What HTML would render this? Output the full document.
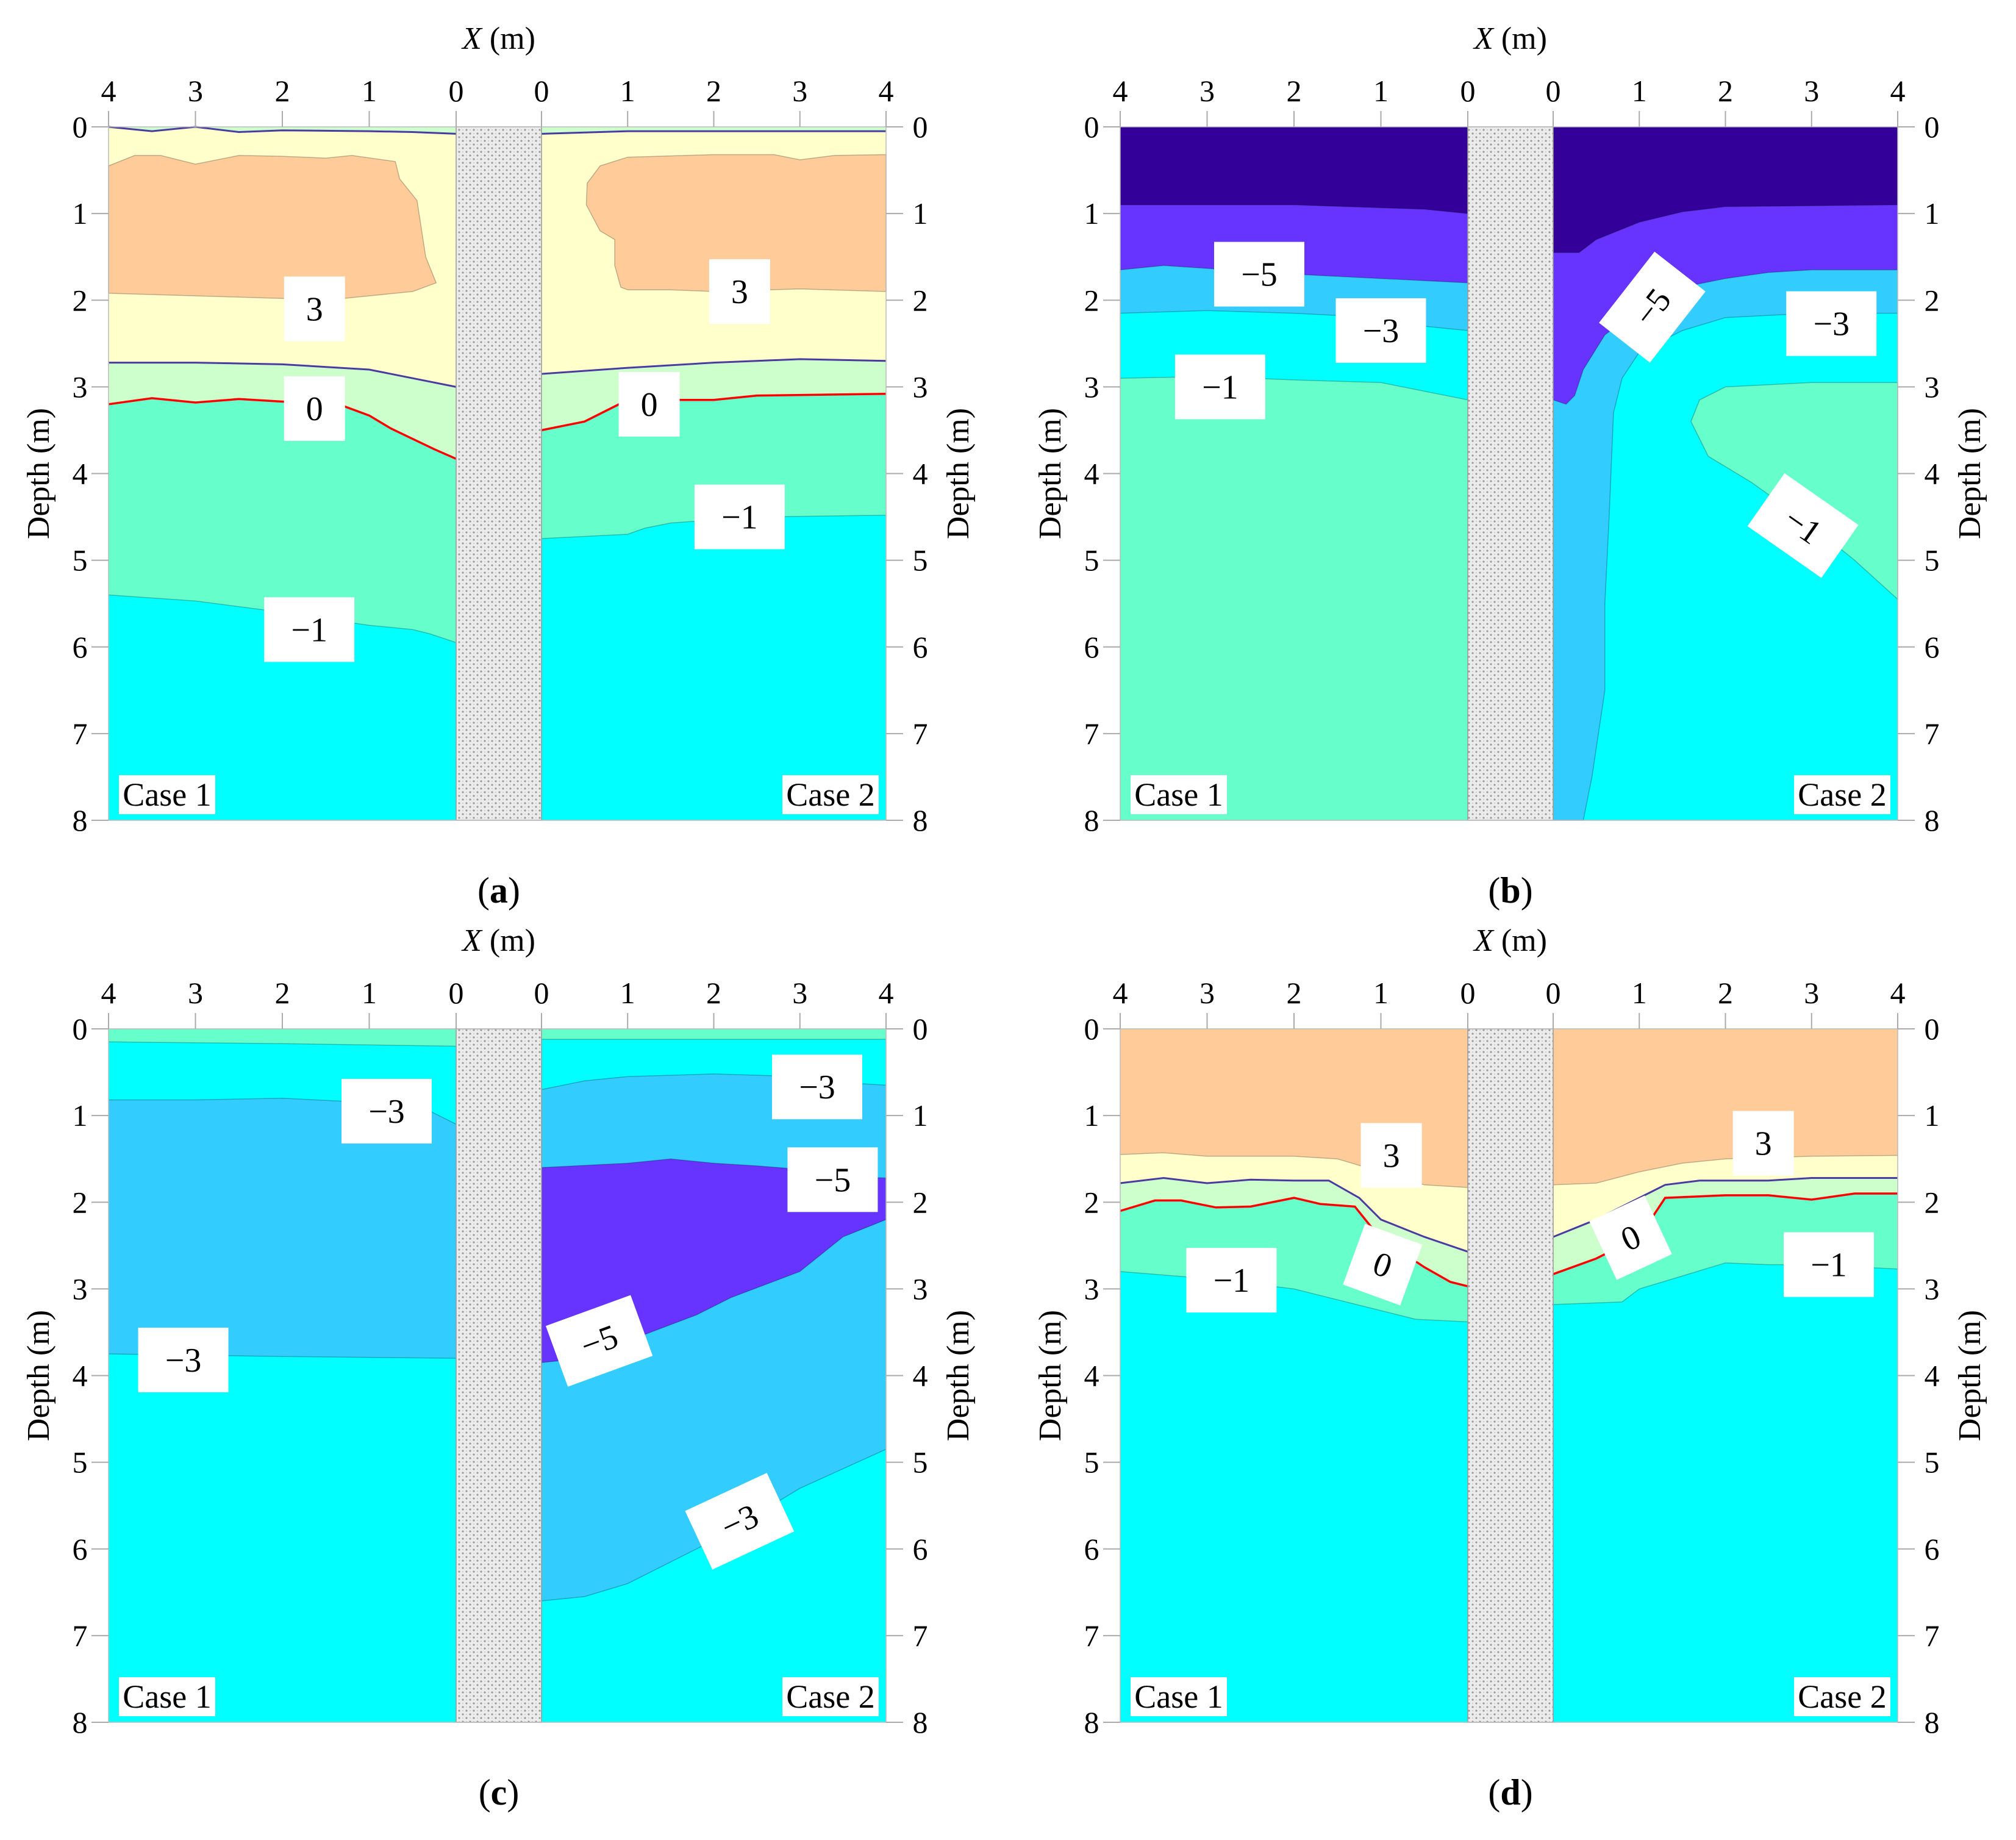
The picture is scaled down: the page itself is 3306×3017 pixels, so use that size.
<!DOCTYPE html>
<html><head><meta charset="utf-8">
<style>
html,body{margin:0;padding:0;background:#fff;}
svg{display:block;font-family:"Liberation Serif",serif;}
svg text{font-family:"Liberation Serif",serif;}
</style></head>
<body>
<svg id="fig" width="3306" height="3017" viewBox="0 0 3306 3017" xmlns="http://www.w3.org/2000/svg" font-family="Liberation Serif, serif">
<defs>
<pattern id="pile" width="12" height="12" patternUnits="userSpaceOnUse">
<rect width="12" height="12" fill="#ececec"/>
<circle cx="3" cy="3" r="1.6" fill="#9a9a9a"/>
<circle cx="9" cy="9" r="1.6" fill="#9a9a9a"/>
<circle cx="9" cy="3" r="1" fill="#c4c4c4"/>
<circle cx="3" cy="9" r="1" fill="#c4c4c4"/>
</pattern>
</defs>
</svg>
<script>
// ---- colours
const C = {y:'#FFFFCC', o:'#FFCC99', lg:'#CCFFCC', aq:'#66FFCC', cy:'#00FFFF', sb:'#33CCFF', pu:'#6633FF', in:'#330099'};
// ---- tick labels
const xTickLabels = [4,3,2,1,0];
const depthTicks = [0,1,2,3,4,5,6,7,8];
const panelLetters = ['a','b','c','d'];

// ---- panel (a) data : [distance from pile (m), depth (m)]
const a1Top = [[0,0.08],[0.5,0.06],[1,0.05],[2,0.04],[2.5,0.06],[3,0.0],[3.5,0.05],[4,0.0]];
const a1Purple = [[0,3.0],[0.5,2.9],[1,2.8],[2,2.74],[3,2.72],[4,2.72]];
const a1Red = [[0,3.83],[0.25,3.72],[0.5,3.6],[0.75,3.48],[1,3.33],[1.3,3.22],[1.5,3.2],[2.5,3.14],[3,3.18],[3.5,3.13],[4,3.2]];
const a1Aqua = [[0,5.95],[0.3,5.85],[0.5,5.8],[1,5.75],[1.5,5.68],[2,5.6],[3,5.47],[4,5.4]];
const a1Orange = [[4,0.45],[3.7,0.33],[3.4,0.33],[3.0,0.43],[2.5,0.33],[2,0.34],[1.5,0.36],[1.2,0.33],[0.7,0.4],[0.65,0.6],[0.45,0.85],[0.35,1.5],[0.23,1.8],[0.5,1.9],[1,1.95],[1.5,2.0],[2,1.98],[3,1.95],[4,1.92]];
const a2Top = [[0,0.08],[1,0.05],[2,0.05],[3,0.05],[4,0.05]];
const a2Purple = [[0,2.85],[1,2.78],[2,2.72],[3,2.68],[4,2.7]];
const a2Red = [[0,3.5],[0.5,3.4],[0.7,3.3],[1,3.15],[2,3.15],[2.5,3.1],[4,3.08]];
const a2Aqua = [[0,4.75],[1,4.7],[1.2,4.63],[1.5,4.57],[2.5,4.5],[4,4.48]];
const a2Orange = [[0.68,0.45],[1,0.35],[2,0.32],[2.7,0.32],[3,0.38],[3.4,0.33],[4,0.32],[4,1.9],[3,1.87],[2,1.9],[1.5,1.88],[1,1.88],[0.92,1.85],[0.85,1.6],[0.85,1.3],[0.68,1.2],[0.52,0.9],[0.53,0.65]];

// ---- panel (b)
const b1Indigo = [[0,1.0],[0.5,0.95],[2,0.9],[4,0.9]];
const b1Purple = [[0,1.8],[1,1.75],[2,1.7],[3.5,1.6],[4,1.65]];
const b1Sky = [[0,2.35],[0.5,2.3],[1,2.2],[2,2.15],[3,2.12],[4,2.15]];
const b1Cyan = [[0,3.15],[0.5,3.05],[1,2.95],[2,2.92],[3,2.88],[4,2.9]];
const b2Indigo = [[0,1.45],[0.3,1.45],[0.5,1.3],[1,1.1],[1.5,0.98],[2,0.92],[4,0.9]];
const b2Purple = [[0,3.15],[0.15,3.2],[0.25,3.1],[0.35,2.8],[0.6,2.4],[1,2.1],[1.5,1.85],[2,1.75],[2.5,1.68],[3,1.65],[4,1.65]];
const b2Sky = [[0,8],[0.35,8],[0.45,7.5],[0.6,6.5],[0.6,5.5],[0.65,4.5],[0.7,3.3],[0.8,2.9],[1,2.6],[1.5,2.35],[2,2.2],[3,2.15],[4,2.15]];
const b2AquaBlob = [[4,2.95],[3,2.95],[2,3.0],[1.7,3.15],[1.6,3.4],[1.8,3.8],[2.3,4.1],[3,4.6],[3.5,5.0],[4,5.45]];

// ---- panel (c)
const c1Aqua = [[0,0.2],[2,0.17],[4,0.15]];
const c1Cyan = [[0,1.1],[0.3,0.95],[1,0.85],[2,0.8],[3,0.82],[4,0.82]];
const c1Sky = [[0,3.8],[2,3.78],[4,3.75]];
const c2Aqua = [[0,0.12],[4,0.12]];
const c2Cyan = [[0,0.7],[0.5,0.6],[1,0.55],[2,0.52],[3,0.55],[3.5,0.62],[4,0.65]];
const c2Sky = [[0,6.6],[0.5,6.55],[1,6.4],[2,5.9],[3,5.3],[4,4.85]];
const c2PurpleBlob = [[0,1.6],[1,1.55],[1.5,1.5],[2,1.55],[2.5,1.58],[3,1.62],[3.5,1.7],[4,1.72],[4,2.2],[3.5,2.4],[3,2.8],[2.2,3.1],[1.8,3.3],[1,3.6],[0.5,3.8],[0,3.85]];

// ---- panel (d)
const d1Orange = [[0,1.83],[0.5,1.8],[1,1.65],[1.5,1.5],[2,1.47],[3,1.47],[3.5,1.43],[4,1.45]];
const d1Purple = [[0,2.57],[0.5,2.4],[1,2.2],[1.25,1.95],[1.6,1.75],[2,1.75],[2.5,1.74],[3,1.78],[3.5,1.72],[4,1.78]];
const d1Red = [[0,2.97],[0.2,2.92],[0.5,2.75],[0.8,2.55],[1.1,2.3],[1.3,2.05],[1.7,2.02],[2.0,1.95],[2.5,2.05],[2.9,2.06],[3.3,1.98],[3.6,1.98],[4,2.1]];
const d1Aqua = [[0,3.38],[0.6,3.35],[1.2,3.2],[2,3.0],[3,2.88],[4,2.8]];
const d2Orange = [[0,1.8],[0.5,1.78],[1,1.65],[1.5,1.55],[2,1.5],[3,1.47],[4,1.46]];
const d2Purple = [[0,2.4],[0.5,2.2],[1,1.95],[1.3,1.8],[1.7,1.75],[2.5,1.75],[3,1.72],[4,1.72]];
const d2Red = [[0,2.83],[0.5,2.65],[1,2.4],[1.2,2.1],[1.3,1.95],[2,1.92],[2.5,1.92],[3,1.97],[3.5,1.9],[4,1.9]];
const d2Aqua = [[0,3.18],[0.8,3.15],[1,3.0],[1.5,2.85],[2,2.7],[2.5,2.72],[3,2.72],[4,2.77]];

// ---- contour labels: [text, distance, depth, rotation]
const labelsA1 = [['3',1.63,2.1,0],['0',1.63,3.25,0],['\u22121',1.69,5.8,0]];
const labelsA2 = [['3',2.3,1.9,0],['0',1.25,3.2,0],['\u22121',2.3,4.5,0]];
const labelsB1 = [['\u22125',2.4,1.7,0],['\u22123',1.0,2.35,0],['\u22121',2.85,3.0,0]];
const labelsB2 = [['\u22125',1.15,2.08,-52],['\u22123',3.23,2.27,0],['\u22121',2.9,4.6,35]];
const labelsC1 = [['\u22123',0.8,0.95,0],['\u22123',3.14,3.82,0]];
const labelsC2 = [['\u22123',3.2,0.67,0],['\u22125',3.38,1.74,0],['\u22125',0.67,3.6,-20],['\u22123',2.3,5.68,-25]];
const labelsD1 = [['3',0.88,1.46,0],['0',0.98,2.72,20],['\u22121',2.72,2.9,0]];
const labelsD2 = [['3',2.44,1.32,0],['0',0.9,2.41,-25],['\u22121',3.2,2.72,0]];

// ---- layout
const NS='http://www.w3.org/2000/svg';
const FONT='Liberation Serif, serif';
const svg=document.getElementById('fig');
const DX=1659, DY=1479;
const base={x4L:178,pileL:748,pileR:888,x4R:1453,top:208,bot:1345};
const uy=(base.bot-base.top)/8;
const uxL=(base.pileL-base.x4L)/4, uxR=(base.x4R-base.pileR)/4;
function el(tag,attrs,parent){const e=document.createElementNS(NS,tag);for(const k in attrs)e.setAttribute(k,attrs[k]);if(tag==='text')e.setAttribute('font-family',FONT);(parent||svg).appendChild(e);return e;}
function sx(p,side,d){return side===1? p.ox+base.pileL-d*uxL : p.ox+base.pileR+d*uxR;}
function sy(p,dep){return p.oy+base.top+dep*uy;}
function pts(p,side,arr){return arr.map(q=>sx(p,side,q[0]).toFixed(1)+','+sy(p,q[1]).toFixed(1));}
function fillAbove(g,p,side,arr,color,name){
  const s=pts(p,side,arr).concat([sx(p,side,arr[arr.length-1][0])+','+sy(p,0), sx(p,side,arr[0][0])+','+sy(p,0)]);
  const e=el('polygon',{points:s.join(' '),fill:color},g);
  
  
}
function blob(g,p,side,arr,color,name){
  const e=el('polygon',{points:pts(p,side,arr).join(' '),fill:color,stroke:'rgba(0,0,0,0.25)','stroke-width':1.5},g);
  
  
}
function line(g,p,side,arr,color,w,name){
  const e=el('polyline',{points:pts(p,side,arr).join(' '),fill:'none',stroke:color,'stroke-width':w},g);
  
  
}
function label(g,p,side,L){
  const [t,d,dep,rot]=L;const x=sx(p,side,d),y=sy(p,dep);
  const w=t.length>1?148:100,h=106;
  const lg=el('g',{transform:`translate(${x},${y}) rotate(${rot})`},g);
  
  
  el('rect',{x:-w/2,y:-h/2,width:w,height:h,fill:'#fff'},lg);
  const tx=el('text',{x:0,y:19,'text-anchor':'middle','font-size':56,fill:'#000'},lg);
  tx.textContent=t;
}

const panels=[
 {ox:0,oy:0,sides:{
   1:{base:C.cy,layers:[[a1Aqua,C.aq],[a1Red,C.lg],[a1Purple,C.y],[a1Top,C.lg]],blobs:[[a1Orange,C.o]],red:[a1Red],purple:[a1Top,a1Purple],labels:labelsA1},
   2:{base:C.cy,layers:[[a2Aqua,C.aq],[a2Red,C.lg],[a2Purple,C.y],[a2Top,C.lg]],blobs:[[a2Orange,C.o]],red:[a2Red],purple:[a2Top,a2Purple],labels:labelsA2}}},
 {ox:DX,oy:0,sides:{
   1:{base:C.aq,layers:[[b1Cyan,C.cy],[b1Sky,C.sb],[b1Purple,C.pu],[b1Indigo,C.in]],blobs:[],red:[],purple:[],labels:labelsB1},
   2:{base:C.cy,layers:[[b2Sky,C.sb]],blobs:[[b2AquaBlob,C.aq]],layers2:[[b2Purple,C.pu],[b2Indigo,C.in]],red:[],purple:[],labels:labelsB2}}},
 {ox:0,oy:DY,sides:{
   1:{base:C.cy,layers:[[c1Sky,C.sb],[c1Cyan,C.cy],[c1Aqua,C.aq]],blobs:[],red:[],purple:[],labels:labelsC1},
   2:{base:C.cy,layers:[[c2Sky,C.sb],[c2Cyan,C.cy],[c2Aqua,C.aq]],blobs:[[c2PurpleBlob,C.pu]],red:[],purple:[],labels:labelsC2}}},
 {ox:DX,oy:DY,sides:{
   1:{base:C.cy,layers:[[d1Aqua,C.aq],[d1Red,C.lg],[d1Purple,C.y],[d1Orange,C.o]],blobs:[],red:[d1Red],purple:[d1Purple],labels:labelsD1},
   2:{base:C.cy,layers:[[d2Aqua,C.aq],[d2Red,C.lg],[d2Purple,C.y],[d2Orange,C.o]],blobs:[],red:[d2Red],purple:[d2Purple],labels:labelsD2}}}
];

panels.forEach((p,pi)=>{
  const g=el('g',{});
  
  
  [1,2].forEach(side=>{
    const s=p.sides[side];
    const sg=el('g',{},g);
    
    
    const xa=side===1?p.ox+base.x4L:p.ox+base.pileR;
    el('rect',{x:xa,y:sy(p,0),width:side===1?base.pileL-base.x4L:base.x4R-base.pileR,height:uy*8,fill:s.base},sg);
    s.layers.forEach(l=>{fillAbove(sg,p,side,l[0],l[1],'contour-band');line(sg,p,side,l[0],'rgba(0,0,0,0.25)',1.5,'contour-line');});
    s.blobs.forEach(b=>blob(sg,p,side,b[0],b[1],'contour-region'));
    (s.layers2||[]).forEach(l=>{fillAbove(sg,p,side,l[0],l[1],'contour-band');line(sg,p,side,l[0],'rgba(0,0,0,0.25)',1.5,'contour-line');});
    s.purple.forEach(l=>line(sg,p,side,l,'#4b3aa0',3,'contour-line-purple'));
    s.red.forEach(l=>line(sg,p,side,l,'#ff0000',3.5,'zero-contour-line'));
    s.labels.forEach(L=>label(sg,p,side,L));
    const cb=el('g',{},sg);
    
    
    const bw=158,bh=64,bx=side===1?p.ox+base.x4L+17:p.ox+base.x4R-12-bw,by=sy(p,8)-10-bh;
    el('rect',{x:bx,y:by,width:bw,height:bh,fill:'#fff'},cb);
    const ct=el('text',{x:bx+bw/2,y:by+50,'text-anchor':'middle','font-size':54},cb);
    ct.textContent='Case '+side;
  });
  const pile=el('rect',{x:p.ox+base.pileL,y:sy(p,0),width:base.pileR-base.pileL,height:uy*8,fill:'url(#pile)',stroke:'#999','stroke-width':1.5},g);
  
  
  el('rect',{x:p.ox+base.x4L,y:sy(p,0),width:base.x4R-base.x4L,height:uy*8,fill:'none',stroke:'#bbb','stroke-width':1.5},g);
  [1,2].forEach(side=>{
    xTickLabels.forEach(lab=>{
      const x=sx(p,side,lab);
      el('line',{x1:x,x2:x,y1:sy(p,0)-26,y2:sy(p,0),stroke:'#aaa','stroke-width':2},g);
      const t=el('text',{x:x,y:p.oy+166,'text-anchor':'middle','font-size':50},g);
      
      
      t.textContent=lab;
    });
  });
  depthTicks.forEach(v=>{
    const y=sy(p,v);
    el('line',{x1:p.ox+base.x4L-28,x2:p.ox+base.x4L,y1:y,y2:y,stroke:'#aaa','stroke-width':2},g);
    el('line',{x1:p.ox+base.x4R,x2:p.ox+base.x4R+28,y1:y,y2:y,stroke:'#aaa','stroke-width':2},g);
    const t1=el('text',{x:p.ox+131,y:y+17,'text-anchor':'middle','font-size':50},g);
    
    
    t1.textContent=v;
    const t2=el('text',{x:p.ox+1509,y:y+17,'text-anchor':'middle','font-size':50},g);
    
    
    t2.textContent=v;
  });
  const xt=el('text',{x:p.ox+(base.pileL+base.pileR)/2,y:p.oy+80,'text-anchor':'middle','font-size':52},g);
  
  
  xt.innerHTML='<tspan font-style="italic">X</tspan> (m)';
  const yc=sy(p,4);
  [[p.ox+80,'y-axis-title-left'],[p.ox+1588,'y-axis-title-right']].forEach(([x,n])=>{
    const t=el('text',{x:x,y:yc,'text-anchor':'middle','font-size':52,transform:`rotate(-90 ${x} ${yc})`},g);
    
    
    t.textContent='Depth (m)';
  });
  const cap=el('text',{x:p.ox+(base.pileL+base.pileR)/2,y:p.oy+1480,'text-anchor':'middle','font-size':60},g);
  
  
  cap.innerHTML='(<tspan font-weight="bold">'+panelLetters[pi]+'</tspan>)';
});
</script>
</body></html>
